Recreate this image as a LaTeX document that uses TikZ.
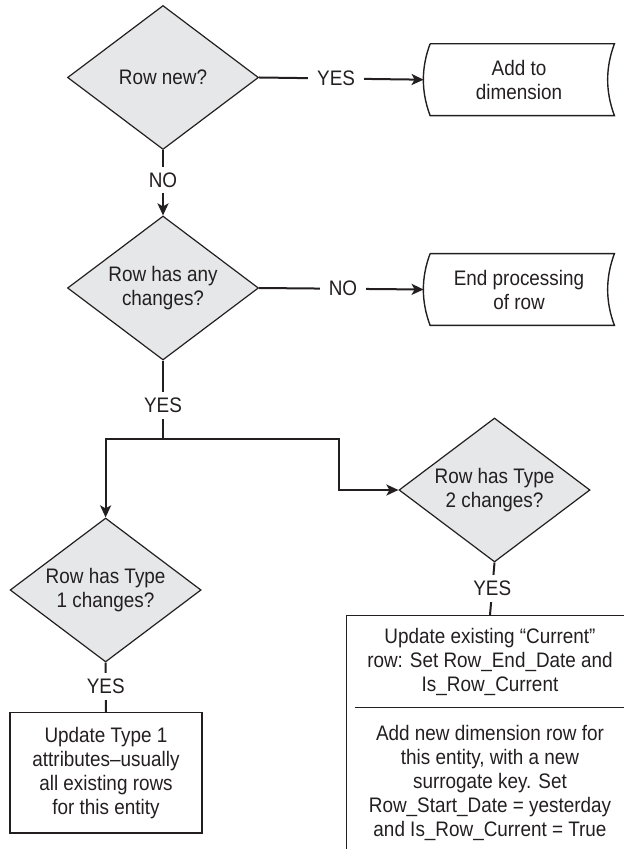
\documentclass[tikz,border=0pt]{standalone}
\usepackage{fontspec}
\setmainfont{Liberation Sans}[FakeStretch=0.9]
\usepackage{tikz}
\usetikzlibrary{shapes.geometric, arrows.meta, positioning, calc}
\definecolor{mydark}{RGB}{35,31,32}
\definecolor{decgray}{RGB}{230,231,232}
\tikzset{
  decision/.style={diamond, draw=mydark, fill=decgray, aspect=1.33,
    minimum width=95.5pt, minimum height=72pt, inner sep=0pt,
    align=center, line width=0.6pt, text=mydark},
  storage/.style={rectangle, align=center, minimum width=95pt,
    minimum height=35.5pt, inner sep=0pt, text=mydark},
  procbox/.style={rectangle, draw=mydark, align=center, inner sep=0pt,
    line width=0.7pt, text=mydark},
  plaintext/.style={align=center, inner sep=0pt, text=mydark},
  lbl/.style={fill=white, inner xsep=4.5pt, inner ysep=3pt, text=mydark},
  arrow/.style={-{Stealth[length=6pt, width=5.5pt, inset=1.5pt]},
    line width=1pt, color=mydark},
  line/.style={line width=1pt, color=mydark},
  boxline/.style={line width=0.7pt, color=mydark}
}
% outline of a stored-data box, both sides bowed to the left
\newcommand{\storeoutline}[1]{%
  \draw[boxline] ([xshift=3.25pt]#1.north west) -- (#1.north east)
    .. controls +(-4.5pt,-12pt) and +(-4.5pt,12pt) .. (#1.south east)
    -- ([xshift=3.25pt]#1.south west)
    .. controls +(-4.5pt,12pt) and +(-4.5pt,-12pt) .. ([xshift=3.25pt]#1.north west);}

\begin{document}
\begin{tikzpicture}[x=0.5pt, y=-0.5pt, font=\fontsize{10.5}{12}\selectfont]
  \useasboundingbox (0,0) rectangle (624,849);
  \clip (0,0) rectangle (624,849);

  % ── Decisions ─────────────────────────────────────────────────────────────
  \node[decision] (d1) at (163,77.5) {Row new?};
  \node[decision] (d2) at (163,288) {Row has any\\changes?};
  \node[decision] (d3) at (494.5,490) {Row has Type\\2 changes?};
  \node[decision] (d4) at (105.6,590) {Row has Type\\1 changes?};

  % ── Stored-data boxes (right column) ──────────────────────────────────────
  \node[storage] (add) at (519,79.7) {Add to\\dimension};
  \storeoutline{add}
  \node[storage] (endrow) at (519,289.5) {End processing\\of row};
  \storeoutline{endrow}

  % ── Process boxes ─────────────────────────────────────────────────────────
  \node[procbox, minimum width=96pt, minimum height=60.25pt] (t1box) at (106,772.75)
    {Update Type 1\\attributes–usually\\all existing rows\\for this entity};
  % Type 2 box runs off the right and bottom edges
  \node[procbox, minimum width=143.5pt, minimum height=122.2pt] (t2box) at (490,737.8) {};
  \node[plaintext] (upd) at (490,661.5)
    {Update existing “Current”\\row: Set Row\_End\_Date and\\Is\_Row\_Current};
  \draw[boxline] (354.6,707.4) -- (640,707.4);
  \node[plaintext] (addrow) at (490,783)
    {Add new dimension row for\\this entity, with a new\\surrogate key. Set\\Row\_Start\_Date = yesterday\\and Is\_Row\_Current = True};

  % ── Connectors ────────────────────────────────────────────────────────────
  \coordinate (split) at (163,439);
  \coordinate (jog) at (339,439);
  \draw[arrow] (d1.east) -- node[lbl, pos=0.468] {YES} (add.west);
  \draw[arrow] (d1.south) -- node[lbl, pos=0.457] {NO} (d2.north);
  \draw[arrow] (d2.east) -- node[lbl, pos=0.51] {NO} (endrow.west);
  \draw[line] (d2.south) -- node[lbl, pos=0.576] {YES} (split);
  \draw[arrow] (split) -| (d4.north);
  \draw[arrow] (split) -- (jog) |- (d3.west);
  \draw[line] (d3.south) -- node[lbl, pos=0.5] {YES} (t2box.north);
  \draw[line] (d4.south) -- node[lbl, pos=0.48] {YES} (t1box.north);
\end{tikzpicture}
\end{document}
